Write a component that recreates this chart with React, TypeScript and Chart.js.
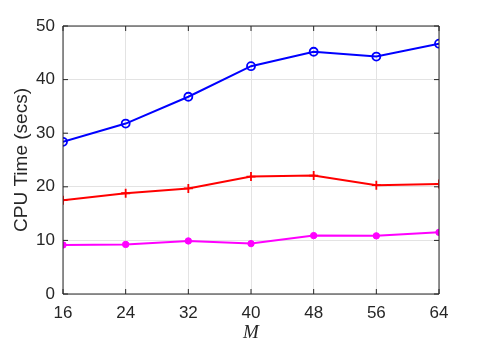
import React, { useEffect, useRef } from "react";
import { Chart, registerables } from "chart.js";

Chart.register(...registerables);

const mValues = [16, 24, 32, 40, 48, 56, 64];
const blueSeries = [28.4, 31.8, 36.8, 42.5, 45.2, 44.3, 46.7];
const redSeries = [17.5, 18.8, 19.7, 21.9, 22.1, 20.3, 20.5];
const magentaSeries = [9.15, 9.25, 9.9, 9.4, 10.9, 10.85, 11.5];
const yTicks = [0, 10, 20, 30, 40, 50];

const AXIS = "#262626";

const boxPlugin = {
  id: "matlabBox",
  afterDraw(chart: any) {
    const { ctx, chartArea } = chart;
    const { left, right, top, bottom } = chartArea;
    const xs = chart.scales.x;
    const ys = chart.scales.y;
    ctx.save();
    ctx.strokeStyle = AXIS;
    ctx.lineWidth = 1;
    ctx.beginPath();
    ctx.rect(left, top, right - left, bottom - top);
    ctx.stroke();
    const tl = 5;
    ctx.beginPath();
    mValues.forEach((v) => {
      const px = xs.getPixelForValue(v);
      ctx.moveTo(px, bottom);
      ctx.lineTo(px, bottom - tl);
      ctx.moveTo(px, top);
      ctx.lineTo(px, top + tl);
    });
    yTicks.forEach((v) => {
      const py = ys.getPixelForValue(v);
      ctx.moveTo(left, py);
      ctx.lineTo(left + tl, py);
      ctx.moveTo(right, py);
      ctx.lineTo(right - tl, py);
    });
    ctx.stroke();
    ctx.restore();
  },
};

export default function App() {
  const ref = useRef<HTMLCanvasElement>(null);
  useEffect(() => {
    document.body.style.margin = "0";
    const mk = (vals: number[]) => vals.map((y, i) => ({ x: mValues[i], y }));
    const chart = new Chart(ref.current!, {
      type: "line",
      data: {
        datasets: [
          {
            data: mk(blueSeries),
            borderColor: "#0000ff",
            backgroundColor: "rgba(0,0,0,0)",
            pointBorderColor: "#0000ff",
            pointBackgroundColor: "rgba(0,0,0,0)",
            pointStyle: "circle",
            pointRadius: 4,
            pointBorderWidth: 1.8,
            borderWidth: 2,
          },
          {
            data: mk(redSeries),
            borderColor: "#ff0000",
            pointBorderColor: "#ff0000",
            pointStyle: "cross",
            pointRadius: 4.5,
            pointBorderWidth: 1.8,
            borderWidth: 2,
          },
          {
            data: mk(magentaSeries),
            borderColor: "#ff00ff",
            pointBorderColor: "#ff00ff",
            pointBackgroundColor: "#ff00ff",
            pointStyle: "circle",
            pointRadius: 3.2,
            pointBorderWidth: 1,
            borderWidth: 2,
          },
        ],
      },
      options: {
        animation: false,
        responsive: false,
        maintainAspectRatio: false,
        layout: { padding: { top: 26, right: 46, left: 0, bottom: 0 } },
        plugins: { legend: { display: false }, tooltip: { enabled: false } },
        elements: { line: { tension: 0 } },
        scales: {
          x: {
            type: "linear",
            min: 16,
            max: 64,
            afterBuildTicks: (s: any) => {
              s.ticks = mValues.map((v) => ({ value: v }));
            },
            afterFit: (s: any) => {
              s.height = 52;
            },
            grid: { color: "#e3e3e3", drawTicks: false, lineWidth: 1 },
            border: { display: false },
            ticks: {
              color: AXIS,
              padding: 9,
              maxRotation: 0,
              autoSkip: false,
              font: { family: "'Liberation Sans', Arial, sans-serif", size: 17 },
            },
            title: {
              display: true,
              text: "M",
              color: AXIS,
              padding: { top: 0, bottom: 2 },
              font: { family: "'Liberation Serif', 'DejaVu Serif', serif", size: 19, style: "italic" },
            },
          },
          y: {
            min: 0,
            max: 50,
            afterBuildTicks: (s: any) => {
              s.ticks = yTicks.map((v) => ({ value: v }));
            },
            afterFit: (s: any) => {
              s.width = 63;
            },
            grid: { color: "#e3e3e3", drawTicks: false, lineWidth: 1 },
            border: { display: false },
            ticks: {
              color: AXIS,
              padding: 8,
              font: { family: "'Liberation Sans', Arial, sans-serif", size: 17 },
            },
            title: {
              display: true,
              text: "CPU Time (secs)",
              color: AXIS,
              padding: { top: 10, bottom: 0 },
              font: { family: "'Liberation Sans', Arial, sans-serif", size: 19 },
            },
          },
        },
      },
      plugins: [boxPlugin],
    } as any);
    return () => chart.destroy();
  }, []);
  return (
    <div style={{ position: "absolute", left: 0, top: 0, width: 485, height: 346, background: "#fff" }}>
      <canvas ref={ref} width={485} height={346} style={{ width: 485, height: 346 }} />
    </div>
  );
}
